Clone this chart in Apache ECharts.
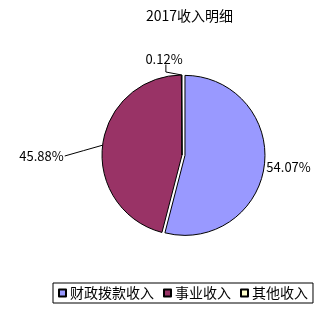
<!DOCTYPE html>
<html>
<head>
<meta charset="utf-8">
<script src="https://cdn.jsdelivr.net/npm/echarts@6/dist/echarts.min.js"></script>
<style>
  html, body { margin: 0; padding: 0; background: #fff; }
  #chart { width: 335px; height: 309px; }
</style>
</head>
<body>
<div id="chart"></div>
<script>
// 2017 income breakdown
const chartTitle = '2017收入明细';
const categories = ['财政拨款收入', '事业收入', '其他收入'];
const shares = [54.07, 45.88, 0.12];
const colors = ['#9999FF', '#993366', '#FFFFCC'];

const FONT = '"Noto Sans CJK SC", "Noto Sans", sans-serif';

// per-slice label nudges (pixels) so leader lines run like the office-style pie
const labelShift = [
  { dx: 0, dy: 2 },
  { dx: 0, dy: 13 },
  { dx: 22, dy: 2 }
];

const chart = echarts.init(document.getElementById('chart'), null, { renderer: 'canvas' });

const pieData = categories.map((name, i) => {
  const item = {
    name: name,
    value: shares[i],
    itemStyle: { color: colors[i] }
  };
  if (i === 0) {
    item.selected = true;
    item.labelLine = { show: false, length: 0, length2: 0 };
    item.label = { distanceToLabelLine: 2 };
  }
  return item;
});

// Re-route a leader line so it starts on the slice edge and ends at the shifted label
function routeLine(params, s) {
  const pts = params.labelLinePoints;
  if (!pts) return undefined;
  const r = params.labelRect;
  const edge = pts[0];
  if (params.dataIndex === 1) {
    // straight slanted line into the right side of the label
    const end = [r.x + r.width + s.dx + 1, r.y + r.height / 2 + s.dy];
    const mid = [(edge[0] + end[0]) / 2, (edge[1] + end[1]) / 2];
    return [edge, mid, end];
  }
  if (params.dataIndex === 2) {
    // short vertical drop from under the label, then across to the slice
    const endX = r.x + s.dx + r.width * 0.55;
    const end = [endX, r.y + s.dy + r.height - 1];
    const mid = [endX, edge[1] - 3];
    return [edge, mid, end];
  }
  return undefined;
}

chart.setOption({
  animation: false,
  backgroundColor: '#fff',
  title: {
    text: chartTitle,
    left: 141,
    top: 4,
    textStyle: { fontFamily: FONT, fontSize: 14, fontWeight: 'normal', color: '#000' }
  },
  legend: {
    data: categories,
    left: 53,
    top: 283,
    orient: 'horizontal',
    icon: 'rect',
    itemWidth: 7,
    itemHeight: 7,
    itemGap: 9,
    padding: [2, 5],
    borderColor: '#000',
    borderWidth: 1,
    selectedMode: false,
    textStyle: { fontFamily: FONT, fontSize: 14, color: '#000', lineHeight: 16, padding: [0, 0, 0, -1] }
  },
  series: [{
    type: 'pie',
    center: [182, 155],
    radius: 80,
    startAngle: 90,
    clockwise: true,
    selectedMode: 'single',
    selectedOffset: 3,
    avoidLabelOverlap: false,
    itemStyle: { borderColor: '#000', borderWidth: 1 },
    emphasis: { disabled: true },
    select: { itemStyle: { borderColor: '#000', borderWidth: 1 } },
    label: {
      show: true,
      position: 'outside',
      formatter: p => p.value.toFixed(2) + '%',
      fontFamily: FONT,
      fontSize: 13,
      color: '#000'
    },
    labelLine: {
      show: true,
      length: 18,
      length2: 16,
      smooth: false,
      lineStyle: { color: '#000', width: 1 }
    },
    labelLayout: function (params) {
      const s = labelShift[params.dataIndex];
      if (!s) return {};
      const out = { dx: s.dx, dy: s.dy };
      const pts = routeLine(params, s);
      if (pts) out.labelLinePoints = pts;
      return out;
    },
    data: pieData
  }]
});
</script>
</body>
</html>
